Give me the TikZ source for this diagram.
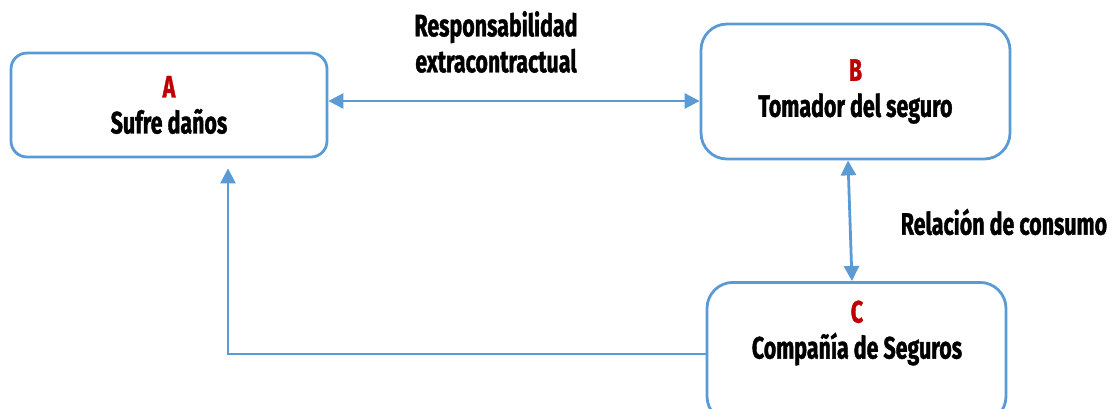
\documentclass[tikz,border=0pt]{standalone}
\usepackage{fontspec}
\usetikzlibrary{arrows.meta,calc}
\newfontfamily\condbold{Fira Sans}[FakeStretch=0.69, BoldFeatures={FakeBold=1.2}]
\definecolor{edgeblue}{HTML}{5B9BD5}
\definecolor{tagred}{HTML}{C00000}
\tikzset{
  box/.style={draw=edgeblue, line width=2.8pt, rounded corners=#1, fill=white,
    align=center, font=\condbold\bfseries\fontsize{31}{36}\selectfont},
  box/.default=16pt,
  lbl/.style={align=center, font=\condbold\bfseries\fontsize{31}{36}\selectfont},
  link/.style={draw=edgeblue, line width=2.8pt},
  tip/.style={-{Triangle[length=15pt,width=15pt]}},
  tips/.style={{Triangle[length=15pt,width=15pt]}-{Triangle[length=15pt,width=15pt]}},
}
\newcommand{\tag}[1]{\textcolor{tagred}{#1}}
\begin{document}
\begin{tikzpicture}[x=1pt,y=-1pt]
  \useasboundingbox (0,0) rectangle (1117,409);
  % parties
  \node[box=16pt, minimum width=316pt, minimum height=104pt] (A) at (169,105)
    {\tag{A}\\Sufre daños};
  \node[box=26pt, minimum width=309pt, minimum height=135pt] (B) at (855.5,91.5)
    {\tag{B}\\Tomador del seguro};
  \node[box=26pt, minimum width=299pt, minimum height=140pt, anchor=north] (C) at (856.5,281) {};
  \node[lbl] (Ct) at (857,333) {\tag{C}\\Compañía de Seguros};
  % relation labels
  \node[lbl] (rx) at (496,42) {Responsabilidad\\extracontractual};
  \node[lbl] (rc) at (1004,222) {Relación de consumo};
  % connectors
  \coordinate (abY) at (0,101);
  \coordinate (caY) at (0,354);
  \coordinate (caX) at (228,0);
  \draw[link, tips] (A.east |- abY) -- (B.west |- abY);
  \draw[link, tips] ($(B.south)+(-7.5,0)$) -- ($(C.north)+(-4.5,0)$);
  \draw[link, tip, shorten >=10pt] (C.west |- caY) -| (A.south -| caX);
\end{tikzpicture}
\end{document}
